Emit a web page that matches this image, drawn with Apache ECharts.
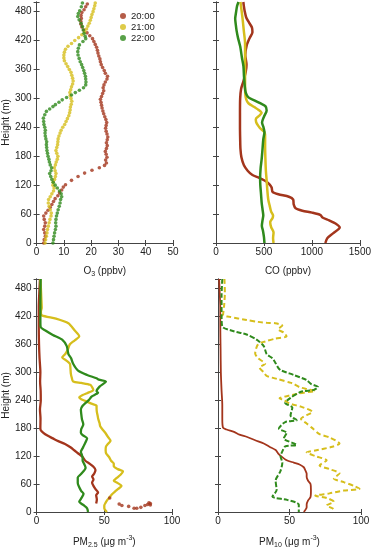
<!DOCTYPE html>
<html><head><meta charset="utf-8">
<script src="https://cdn.jsdelivr.net/npm/echarts@6/dist/echarts.min.js"></script>
<style>html,body{margin:0;padding:0;background:#fff}#c{width:374px;height:550px}</style>
</head><body><div id="c"></div>
<script>
// ---------- DATA (value, height m) ----------
var times = ['20:00','21:00','22:00'];
var heightTicks = [0,60,120,180,240,300,360,420,480];

var o3_20 = [[2.6,0],[2.8,7],[3.2,14],[3.0,21],[2.6,28],[3.0,35],[3.2,42],[2.8,49],[2.6,56],[3.4,62],[4.2,68],[5.0,74],[5.6,80],[6.2,86],[6.8,92],[7.8,98],[8.4,104],[9.2,110],[9.8,116],[10.6,121],[12.8,130],[15.2,138],[17.6,145],[20.3,151],[23.0,156],[24.9,161],[25.6,166],[25.3,172],[25.8,178],[25.5,184],[25.2,190],[25.6,196],[25.9,202],[25.6,208],[25.9,214],[26.1,220],[25.8,226],[25.5,232],[25.3,238],[25.5,244],[25.7,250],[25.4,256],[25.0,262],[24.6,268],[24.3,274],[24.0,280],[23.8,286],[23.6,292],[23.4,298],[23.8,304],[24.2,310],[24.6,316],[24.4,322],[24.7,328],[25.2,334],[25.8,340],[26.0,346],[25.2,352],[24.8,358],[24.2,364],[23.7,370],[23.4,376],[23.2,382],[22.8,388],[22.5,394],[22.3,400],[22.0,406],[21.5,412],[21.0,418],[20.5,424],[19.5,430],[18.5,436],[17.3,442],[16.6,448],[16.3,454],[16.2,460],[16.4,466],[16.3,472],[16.6,478],[17.4,484],[18.0,490],[18.6,496]];
var o3_21 = [[3.1,0],[3.3,7],[3.6,14],[3.8,21],[4.0,28],[4.3,35],[4.6,42],[4.9,49],[5.3,56],[5.4,62],[5.0,69],[4.6,76],[4.3,83],[4.4,90],[5.0,96],[5.6,102],[6.2,108],[6.4,114],[6.0,120],[6.1,126],[6.6,132],[6.9,138],[7.1,144],[6.8,150],[6.5,156],[6.9,162],[7.2,168],[7.6,174],[7.8,180],[7.4,186],[7.1,192],[7.4,198],[7.7,204],[7.8,210],[7.9,216],[8.2,222],[8.6,228],[9.0,234],[9.6,240],[10.3,246],[10.8,252],[11.3,258],[11.8,264],[12.1,270],[12.3,276],[12.4,282],[12.7,288],[12.9,294],[12.6,300],[12.3,306],[12.2,312],[12.5,318],[12.8,324],[13.2,330],[13.4,336],[13.2,342],[12.9,348],[12.6,354],[12.0,360],[11.4,366],[10.8,372],[10.2,378],[10.0,384],[10.0,390],[10.2,396],[10.6,402],[11.5,408],[12.8,414],[14.0,420],[15.4,426],[16.6,432],[17.6,438],[18.3,444],[18.8,450],[19.3,456],[19.7,462],[20.0,468],[20.3,474],[20.7,480],[21.0,486],[21.3,492],[21.5,498]];
var o3_22 = [[6.0,0],[6.2,7],[6.4,14],[6.6,21],[6.9,28],[7.1,35],[7.0,42],[7.1,49],[7.3,56],[7.6,62],[7.9,69],[8.3,76],[8.6,83],[8.8,90],[9.2,96],[9.0,102],[8.4,108],[7.6,114],[6.8,120],[6.1,126],[5.6,132],[5.2,138],[4.8,144],[5.3,150],[5.5,156],[5.0,162],[4.7,168],[4.5,174],[4.2,180],[4.0,186],[3.8,192],[3.7,198],[3.6,204],[3.7,210],[3.4,216],[3.2,222],[3.1,228],[3.2,234],[3.0,240],[2.7,246],[2.6,252],[2.5,259],[3.0,266],[3.6,273],[4.8,278],[6.0,283],[6.9,287],[8.2,292],[9.4,297],[11.0,302],[12.8,307],[14.2,312],[15.7,317],[17.2,322],[18.0,328],[18.1,334],[18.0,340],[17.9,346],[17.6,352],[17.3,358],[16.9,364],[16.5,370],[16.0,376],[15.6,383],[15.2,390],[15.1,397],[15.3,404],[15.7,411],[17.0,418],[18.0,424],[17.8,429],[17.4,435],[17.1,442],[16.8,449],[16.3,456],[15.6,463],[15.1,470],[15.3,476],[15.8,482],[16.4,490],[16.8,498]];

var co_20 = [[1140,0],[1160,10],[1220,20],[1290,32],[1250,40],[1180,47],[1110,53],[1090,58],[1000,63],[900,67],[830,72],[810,80],[805,90],[760,96],[650,101],[590,106],[580,115],[560,121],[520,128],[450,135],[380,141],[330,150],[290,162],[265,178],[255,195],[252,215],[250,240],[250,270],[252,300],[262,320],[285,335],[310,355],[318,370],[305,390],[320,410],[350,425],[380,437],[375,447],[345,457],[315,468],[300,480],[290,492],[285,500]];
var co_21 = [[600,0],[595,10],[600,22],[575,33],[565,43],[590,52],[595,57],[575,65],[560,77],[545,90],[535,110],[528,130],[520,150],[515,175],[512,200],[512,220],[505,230],[470,236],[441,243],[420,250],[415,257],[450,264],[476,270],[445,276],[400,282],[338,290],[315,298],[305,310],[303,330],[303,360],[303,390],[303,414],[290,440],[280,460],[268,480],[255,500]];
var co_22 = [[505,0],[500,12],[490,25],[478,36],[485,47],[493,57],[485,70],[476,84],[470,100],[462,120],[460,135],[465,155],[476,174],[485,195],[493,215],[505,230],[495,240],[480,250],[500,262],[528,275],[515,284],[460,290],[400,296],[338,302],[310,312],[300,325],[292,345],[286,367],[270,385],[252,408],[230,425],[215,440],[205,455],[200,465],[210,480],[220,492],[235,500]];

var pm25_20 = [[44,18],[44.5,27],[44,36],[45.4,42],[43.5,49],[42,56],[41,63],[42,70],[41,76],[42.5,82],[43.5,90],[42,97],[39,104],[36,110],[34,118],[31,125],[28,132],[25,139],[21,146],[16,152],[12,158],[8,164],[5,170],[3,176],[2.8,181],[2.9,200],[2.5,220],[3.1,240],[3.0,260],[2.6,280],[2.8,300],[2.2,330],[1.8,360],[1.6,400],[1.6,440],[2.0,470],[2.5,500]];
var pm25_20dots = [[54,30],[61,17],[63,14],[68,12],[72,8],[74,8],[77,10],[80,14],[82,16],[84,18],[83,20],[84,15]];
var pm25_21 = [[52,0],[50,8],[50,14],[51,20],[52.3,26],[54,32],[55.7,38],[58,44],[60.5,50],[62.7,56],[60,62],[57,67],[59.2,73],[62,80],[63.8,87],[60,92],[57,98],[57,104],[55,110],[53.5,118],[51.5,125],[51,132],[51.2,140],[53,147],[54.6,153],[53,160],[51.2,168],[49,176],[47,184],[46.5,191],[45.5,200],[45,208],[44.5,215],[44.3,222],[44.3,228],[40,233],[36.2,238],[33,242],[31.5,246],[34,251],[37.3,255],[41.9,262],[41,268],[39.6,273],[33,277],[27,280],[26,288],[25.3,297],[25,308],[24.6,318],[22,325],[18.9,332],[21.2,339],[23,348],[24.6,360],[28,368],[31.5,377],[28,390],[23.5,405],[14.3,415],[3.9,422],[3.2,430],[3.8,438],[3.5,460],[3.2,480],[2.8,500]];
var pm25_22 = [[38,0],[37.3,8],[35,14],[33,18],[31.5,22],[32.7,28],[34.7,39],[33,45],[31.5,53],[30.4,62],[30.4,74],[33,82],[36.2,95],[35,104],[34,110],[34,116],[33.5,122],[32.7,129],[34,137],[35,143],[37.3,158],[34,165],[32.7,170],[33,178],[34.5,188],[33.5,199],[33,210],[32.7,220],[34,228],[36.2,234],[38.5,240],[40.8,248],[44,253],[45.4,256],[44.3,259],[46.5,269],[51.2,280],[46,284],[44.3,287],[37.3,294],[30.4,304],[27,318],[25.5,330],[23.5,339],[22.3,356],[18.9,370],[12,380],[6.2,390],[3,397],[2.8,410],[2.8,450],[3,500]];

var pm10_20 = [[60,0],[62,10],[62,16],[63,25],[64.7,32],[65,47],[64.7,60],[63,67],[62,75],[62,82],[61,90],[60,96],[57,102],[53,106],[48,111],[44,120],[42,126],[40.3,133],[36,140],[32,147],[26,154],[20.4,161],[15,166],[11.2,172],[6,177],[3.5,181],[3,200],[3,230],[2.5,260],[2,300],[1.8,350],[1.6,400],[1.6,440],[1.2,470],[0.8,500]];
var pm10_21 = [[4.5,500],[4.8,470],[4.2,440],[3.5,422],[8,419],[20,412],[28,408],[34,406],[40,405],[45,400],[42,392],[46,385],[48,377],[40,372],[33,366],[28,360],[26,340],[28,330],[33,318],[29,310],[32,300],[34,292],[42,285],[50,278],[53,275],[57,268],[62,264],[68,260],[60,256],[50,250],[43,244],[46,240],[50,233],[58,226],[66,215],[60,205],[58,200],[62,190],[66,180],[71,167],[78,160],[85,147],[80,140],[68,132],[62,128],[68,120],[76,111],[71,100],[78,92],[85,83],[81,72],[88,64],[95,56],[99,50],[88,46],[78,40],[68,35],[76,30],[81,22],[76,14],[80,8],[82,2]];
var pm10_22 = [[3,500],[2.5,464],[2.5,422],[3,398],[11,388],[20,381],[27,370],[32,356],[34,339],[38,330],[40,321],[42,310],[44,304],[53,294],[62,283],[65,275],[70,268],[67,262],[58,258],[50.7,245],[47,234],[52,224],[50.7,207],[55,197],[47,193],[42.6,179],[48,170],[46,158],[55,144],[47,141],[45,130],[43.7,120],[45,106],[43.7,88],[40.3,67],[41,47],[38,33],[48.4,26],[56.5,16],[56.5,0]];

var colors = ['#a3351c','#d6be1c','#2f8a1c'];
var xMax = [50,1500,100,100];
var xInt = [10,500,50,50];

// ---------- LAYOUT ----------
var grids = [
  {left:28, top:2, width:145, height:241},
  {left:216, top:2, width:145, height:241},
  {left:28, top:279, width:144, height:239},
  {left:218, top:279, width:143, height:239}
];
var FONT = 'Liberation Sans, Arial, sans-serif';
var rich = {
  n:{fontSize:10, fontFamily:FONT, color:'#222', lineHeight:14},
  s:{fontSize:7, fontFamily:FONT, color:'#222', lineHeight:8, verticalAlign:'bottom'},
  p:{fontSize:7, fontFamily:FONT, color:'#222', lineHeight:8, verticalAlign:'top'}
};
var xNames = ['{n|O}{s|3}{n| (ppbv)}','{n|CO (ppbv)}','{n|PM}{s|2.5}{n| (μg m}{p|-3}{n|)}','{n|PM}{s|10}{n| (μg m}{p|-3}{n|)}'];
var axisLine = {lineStyle:{color:'#444', width:1}};
var tick = {inside:true, length:3, lineStyle:{color:'#444'}};

var xAxes = [], yAxes = [];
for (var i=0;i<4;i++){
  xAxes.push({type:'value', gridIndex:i, min:0, max:xMax[i], interval:xInt[i], position:'bottom',
    axisLine:axisLine, axisTick:tick, splitLine:{show:false},
    axisLabel:{fontSize:10, fontFamily:FONT, color:'#222', margin:4, formatter:function(v){return String(v);}},
    name:xNames[i], nameLocation:'middle', nameGap:i<2?21:23,
    nameTextStyle:{rich:rich}});
  yAxes.push({type:'value', gridIndex:i, min:0, max:500, interval:60, position:'left',
    axisLine:axisLine, axisTick:tick, splitLine:{show:false},
    axisLabel:{show:(i%2===0), fontSize:10, fontFamily:FONT, color:'#222', margin:5,
      formatter:function(v){return heightTicks.indexOf(v)>=0? String(v):'';}},
    name:(i%2===0)?'Height (m)':'', nameLocation:'middle', nameGap:21,
    nameTextStyle:{fontSize:10, fontFamily:FONT, color:'#222'}});
}
for (var j=0;j<4;j++){
  xAxes.push({type:'value', gridIndex:j, min:0, max:xMax[j], interval:xInt[j], position:'top',
    axisLine:axisLine, axisTick:tick, axisLabel:{show:false}, splitLine:{show:false}});
  yAxes.push({type:'value', gridIndex:j, min:0, max:500, interval:60, position:'right',
    axisLine:axisLine, axisTick:tick, axisLabel:{show:false}, splitLine:{show:false}});
}

function dots(name, data, c, g){
  return {type:'scatter', name:name, xAxisIndex:g, yAxisIndex:g, data:data,
    symbolSize:3.6, itemStyle:{color:c}, z:3};
}
function line(name, data, c, g, w, dash){
  return {type:'line', name:name, xAxisIndex:g, yAxisIndex:g, data:data,
    showSymbol:false, symbol:'none', smooth:0.25,
    lineStyle:{color:c, width:w, type:dash||'solid'}, itemStyle:{color:c}};
}

var series = [
  dots(times[0], o3_20, colors[0], 0),
  dots(times[1], o3_21, colors[1], 0),
  dots(times[2], o3_22, colors[2], 0),
  line(times[0], co_20, colors[0], 1, 2.5),
  line(times[1], co_21, colors[1], 1, 2.5),
  line(times[2], co_22, colors[2], 1, 2.5),
  line(times[0], pm25_20, colors[0], 2, 2.3),
  dots(times[0], pm25_20dots, colors[0], 2),
  line(times[1], pm25_21, colors[1], 2, 2.3),
  line(times[2], pm25_22, colors[2], 2, 2.3),
  line(times[0], pm10_20, colors[0], 3, 1.8),
  line(times[1], pm10_21, colors[1], 3, 2, [5,3]),
  line(times[2], pm10_22, colors[2], 3, 2, [5,2])
];

var chart = echarts.init(document.getElementById('c'), null, {renderer:'canvas'});
chart.setOption({
  animation:false,
  backgroundColor:'#fff',
  textStyle:{fontFamily:FONT},
  grid:grids,
  xAxis:xAxes,
  yAxis:yAxes,
  legend:{data:times, orient:'vertical', left:120, top:11, padding:0, itemGap:1,
    itemWidth:6, itemHeight:6, icon:'circle', selectedMode:false,
    textStyle:{fontSize:9.5, fontFamily:FONT, color:'#222'}},
  series:series
});
</script>
</body></html>
